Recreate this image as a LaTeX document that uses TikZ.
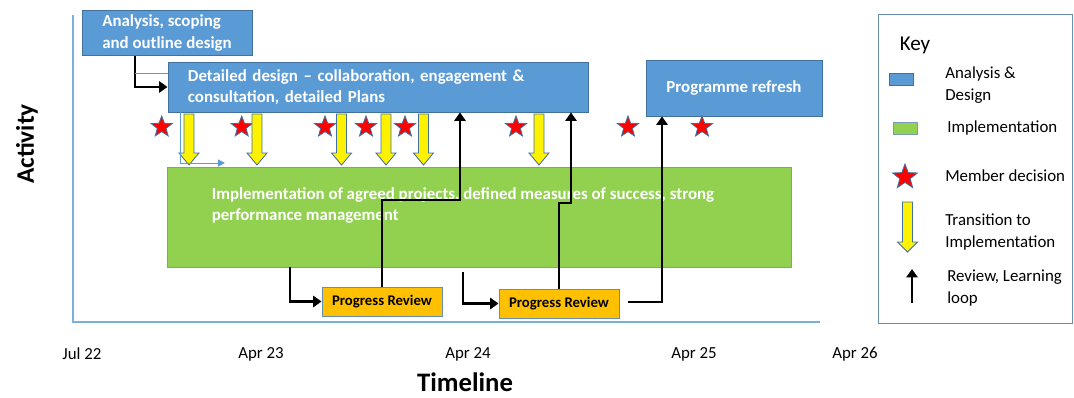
\documentclass[tikz,border=0pt]{standalone}
\usepackage{fontspec}
\setmainfont{Carlito}
\usepackage{xcolor}
\usepackage{tikz}
\usetikzlibrary{arrows.meta}
\usetikzlibrary{shapes.geometric}
\usetikzlibrary{positioning}
\tikzset{>={Triangle[length=6pt,width=8pt]}}
\definecolor{adblue}{HTML}{5B9BD5}
\definecolor{adedge}{HTML}{41719C}
\definecolor{impgreen}{HTML}{92D050}
\definecolor{revorange}{HTML}{FFC000}
\tikzset{
  design/.style={draw=adedge, fill=adblue, line width=0.6pt, text=white,
    font=\bfseries\fontsize{12}{15}\selectfont, align=left},
  impl/.style={draw=adedge!70, fill=impgreen, line width=0.6pt},
  review/.style={draw=adedge!80, fill=revorange, line width=0.6pt,
    font=\bfseries\fontsize{10.5}{13}\selectfont, minimum width=3cm, minimum height=0.725cm},
  decision/.style={star, star points=5, star point ratio=2.4, minimum size=0.55cm,
    inner sep=0pt, fill=red, draw=adedge, line width=0.6pt},
  trans/.style={fill=yellow, draw=adedge, line width=0.6pt},
  fb/.style={->, line width=2pt, line join=miter},
  thinblue/.style={draw=adblue, line width=0.7pt},
  axis/.style={draw=adblue!80, line width=0.8pt},
  keytext/.style={anchor=west, align=left, inner sep=0pt, font=\fontsize{12}{15.5}\selectfont},
  tick/.style={font=\fontsize{12}{14}\selectfont}
}

\begin{document}
\begin{tikzpicture}[x=0.025cm, y=-0.025cm]
  \useasboundingbox (0,0) rectangle (1074,397);

  % axes
  \draw[axis] (73,15) -- (73,323);
  \draw[axis] (73,322) -- (820,322);
  \node[font=\bfseries\fontsize{18}{20}\selectfont, rotate=90] (act) at (27,144) {Activity};
  \node[font=\bfseries\fontsize{19}{21}\selectfont] (tl) at (465,382) {Timeline};
  \node[tick] (t1) at (82,354) {Jul 22};
  \node[tick] (t2) at (261,354) {Apr 23};
  \node[tick] (t3) at (468,354) {Apr 24};
  \node[tick] (t4) at (694,354) {Apr 25};
  \node[tick] (t5) at (855,354) {Apr 26};

  % activity boxes
  \node[design, minimum width=4.25cm, minimum height=0.95cm] (A) at (167,33)
    {Analysis, scoping\\and outline design};
  \node[design, text width=9.5cm, inner xsep=0.5cm, minimum height=1.25cm] (D) at (378,87)
    {Detailed design -- collaboration, engagement \&\\consultation, detailed Plans};
  \node[design, minimum width=4.4cm, minimum height=1.4cm] (P) at (734,88) {Programme refresh};
  \node[impl, minimum width=15.575cm, minimum height=2.5cm,
    label={[anchor=north west, inner sep=0pt, xshift=1.1cm, yshift=-0.525cm, align=left,
      text=white, font=\bfseries\fontsize{12}{15}\selectfont]north west:{Implementation of agreed projects, defined measures of success, strong\\performance management}}]
    (G) at (479.5,217) {};
  \node[review] (PR1) at (382,301.5) {Progress Review};
  \node[review] (PR2) at (559,303.5) {Progress Review};

  % member decisions
  \foreach \x in {161.7,241.7,325,366,405,516,628,702}
    \node[decision] at (\x,127) {};

  % transitions to implementation
  \foreach \x in {189,257,341.5,386,423.5,539}
    \draw[trans] (\x-5,114) -- (\x+5,114) -- (\x+5,153) -- (\x+10,153) -- (\x,165)
      -- (\x-10,153) -- (\x-5,153) -- cycle;

  % design to detailed design
  \coordinate (a1) at (135,73);
  \draw[fb] (a1 |- A.south) |- (D.west);
  \draw[thinblue] (a1) -- (a1 -| D.west);
  \coordinate (b1) at (180,163);
  \coordinate (b2) at (225,163);
  \draw[thinblue, -{Triangle[length=5pt,width=5pt]}] (b1 |- D.south) -- (b1) -- (b2);

  % review loops
  \coordinate (f1) at (290,302);
  \coordinate (f2) at (463,272);
  \draw[fb] (f1 |- G.south) |- (PR1.west);
  \draw[fb] (f2) |- (PR2.west);
  \coordinate (j1) at (460,200);
  \coordinate (j2) at (571,203);
  \coordinate (j3) at (662,302);
  \draw[fb] (PR1.north) |- (j1) -- (j1 |- D.south);
  \draw[fb] (PR2.north) |- (j2) -- (j2 |- D.south);
  \draw[fb] ([xshift=0.22cm]PR2.east |- j3) -- (j3) -- (j3 |- P.south);

  % key
  \node[draw=adedge!80, line width=0.6pt, minimum width=4.85cm, minimum height=7.725cm] (K) at (975,169) {};
  \node[font=\fontsize{15}{17}\selectfont] (Kt) at (915,45) {Key};
  \node[draw=adedge, fill=adblue, line width=0.6pt, minimum width=0.6cm, minimum height=0.3cm, inner sep=0pt] (k1) at (901,79) {};
  \node[keytext] (k1t) at (945,85) {Analysis \&\\Design};
  \node[impl, minimum width=0.6cm, minimum height=0.3cm, inner sep=0pt] (k2) at (905,128) {};
  \node[keytext] (k2t) at (947,128) {Implementation};
  \node[decision, minimum size=0.65cm] (k3) at (905,177) {};
  \node[keytext] (k3t) at (945,176) {Member decision};
  \draw[trans] (902.5,202) -- (912.5,202) -- (912.5,242) -- (917.5,242) -- (907.5,252)
    -- (897.5,242) -- (902.5,242) -- cycle;
  \node[keytext] (k4t) at (945,232) {Transition to\\Implementation};
  \coordinate (k5) at (912,303);
  \draw[fb] (k5) -- ++(0,-34);
  \node[keytext] (k5t) at (947,288) {Review, Learning\\loop};
\end{tikzpicture}
\end{document}
